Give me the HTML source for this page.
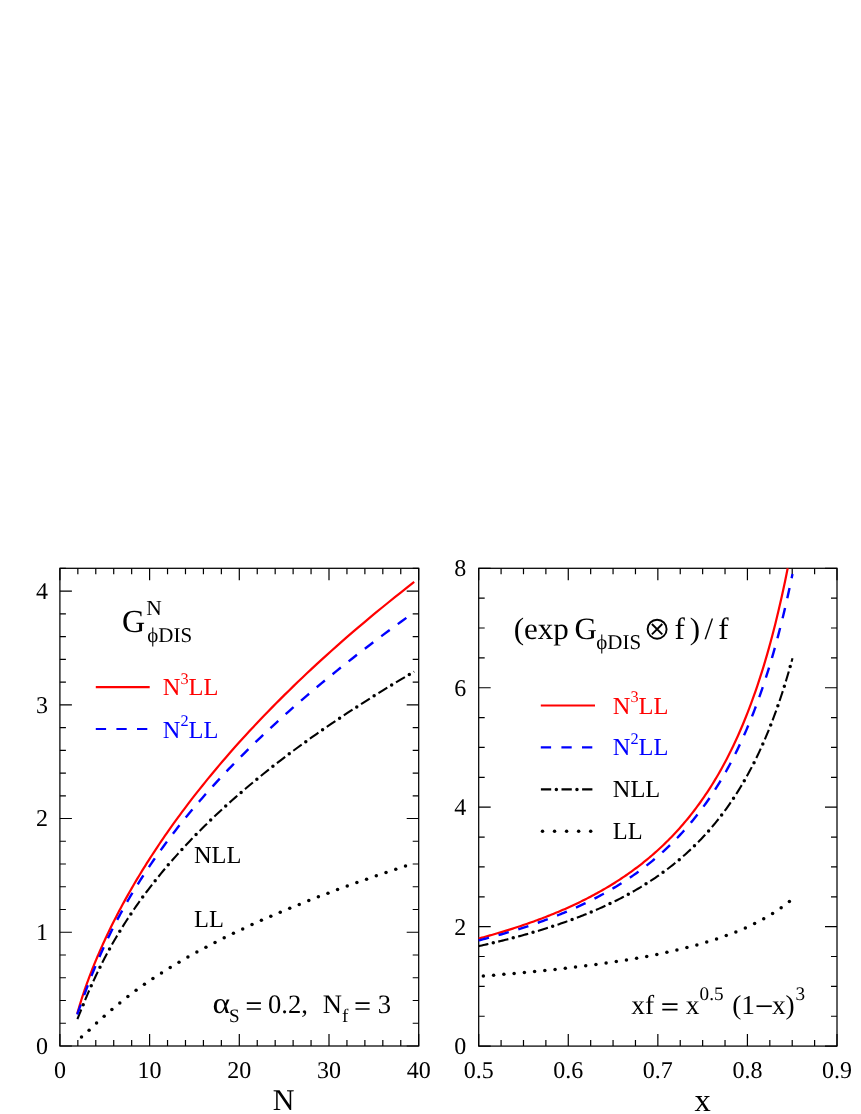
<!DOCTYPE html>
<html><head><meta charset="utf-8"><title>plot</title>
<style>html,body{margin:0;padding:0;background:#fff}svg{display:block;will-change:transform}text{font-family:"Liberation Serif",serif;text-rendering:geometricPrecision}</style>
</head><body>
<svg width="861" height="1114" viewBox="0 0 861 1114">
<path d="M59.9 1046v-12M59.9 568.3v12M77.84 1046v-6M77.84 568.3v6M95.78 1046v-6M95.78 568.3v6M113.72 1046v-6M113.72 568.3v6M131.66 1046v-6M131.66 568.3v6M149.6 1046v-12M149.6 568.3v12M167.54 1046v-6M167.54 568.3v6M185.48 1046v-6M185.48 568.3v6M203.42 1046v-6M203.42 568.3v6M221.36 1046v-6M221.36 568.3v6M239.3 1046v-12M239.3 568.3v12M257.24 1046v-6M257.24 568.3v6M275.18 1046v-6M275.18 568.3v6M293.12 1046v-6M293.12 568.3v6M311.06 1046v-6M311.06 568.3v6M329 1046v-12M329 568.3v12M346.94 1046v-6M346.94 568.3v6M364.88 1046v-6M364.88 568.3v6M382.82 1046v-6M382.82 568.3v6M400.76 1046v-6M400.76 568.3v6M418.7 1046v-12M418.7 568.3v12M59.9 1046h12M418.7 1046h-12M59.9 1023.25h6M418.7 1023.25h-6M59.9 1000.5h6M418.7 1000.5h-6M59.9 977.76h6M418.7 977.76h-6M59.9 955.01h6M418.7 955.01h-6M59.9 932.26h12M418.7 932.26h-12M59.9 909.51h6M418.7 909.51h-6M59.9 886.77h6M418.7 886.77h-6M59.9 864.02h6M418.7 864.02h-6M59.9 841.27h6M418.7 841.27h-6M59.9 818.52h12M418.7 818.52h-12M59.9 795.78h6M418.7 795.78h-6M59.9 773.03h6M418.7 773.03h-6M59.9 750.28h6M418.7 750.28h-6M59.9 727.53h6M418.7 727.53h-6M59.9 704.79h12M418.7 704.79h-12M59.9 682.04h6M418.7 682.04h-6M59.9 659.29h6M418.7 659.29h-6M59.9 636.54h6M418.7 636.54h-6M59.9 613.8h6M418.7 613.8h-6M59.9 591.05h12M418.7 591.05h-12M59.9 568.3h6M418.7 568.3h-6" stroke="#000" stroke-width="1.2" fill="none"/>
<rect x="59.9" y="568.3" width="358.8" height="477.7" fill="none" stroke="#000" stroke-width="1.25"/>
<path d="M478.7 1046.1v-12M478.7 568.3v12M501.09 1046.1v-6M501.09 568.3v6M523.49 1046.1v-6M523.49 568.3v6M545.88 1046.1v-6M545.88 568.3v6M568.27 1046.1v-12M568.27 568.3v12M590.67 1046.1v-6M590.67 568.3v6M613.06 1046.1v-6M613.06 568.3v6M635.46 1046.1v-6M635.46 568.3v6M657.85 1046.1v-12M657.85 568.3v12M680.24 1046.1v-6M680.24 568.3v6M702.64 1046.1v-6M702.64 568.3v6M725.03 1046.1v-6M725.03 568.3v6M747.42 1046.1v-12M747.42 568.3v12M769.82 1046.1v-6M769.82 568.3v6M792.21 1046.1v-6M792.21 568.3v6M814.61 1046.1v-6M814.61 568.3v6M837 1046.1v-12M837 568.3v12M478.7 1046.1h12M837 1046.1h-12M478.7 1016.24h6M837 1016.24h-6M478.7 986.37h6M837 986.37h-6M478.7 956.51h6M837 956.51h-6M478.7 926.65h12M837 926.65h-12M478.7 896.79h6M837 896.79h-6M478.7 866.92h6M837 866.92h-6M478.7 837.06h6M837 837.06h-6M478.7 807.2h12M837 807.2h-12M478.7 777.34h6M837 777.34h-6M478.7 747.47h6M837 747.47h-6M478.7 717.61h6M837 717.61h-6M478.7 687.75h12M837 687.75h-12M478.7 657.89h6M837 657.89h-6M478.7 628.02h6M837 628.02h-6M478.7 598.16h6M837 598.16h-6M478.7 568.3h12M837 568.3h-12" stroke="#000" stroke-width="1.2" fill="none"/>
<rect x="478.7" y="568.3" width="358.3" height="477.8" fill="none" stroke="#000" stroke-width="1.25"/>
<g font-size="24">
<text x="47.9" y="1053.9" text-anchor="end">0</text>
<text x="47.9" y="940.16" text-anchor="end">1</text>
<text x="47.9" y="826.42" text-anchor="end">2</text>
<text x="47.9" y="712.69" text-anchor="end">3</text>
<text x="47.9" y="598.95" text-anchor="end">4</text>
<text x="466.3" y="1054" text-anchor="end">0</text>
<text x="466.3" y="934.55" text-anchor="end">2</text>
<text x="466.3" y="815.1" text-anchor="end">4</text>
<text x="466.3" y="695.65" text-anchor="end">6</text>
<text x="466.3" y="576.2" text-anchor="end">8</text>
<text x="59.9" y="1078" text-anchor="middle">0</text>
<text x="149.6" y="1078" text-anchor="middle">10</text>
<text x="239.3" y="1078" text-anchor="middle">20</text>
<text x="329" y="1078" text-anchor="middle">30</text>
<text x="418.7" y="1078" text-anchor="middle">40</text>
<text x="478.7" y="1078" text-anchor="middle">0.5</text>
<text x="568.27" y="1078" text-anchor="middle">0.6</text>
<text x="657.85" y="1078" text-anchor="middle">0.7</text>
<text x="747.42" y="1078" text-anchor="middle">0.8</text>
<text x="837" y="1078" text-anchor="middle">0.9</text>
</g>
<text x="272.8" y="1109.7" font-size="30">N</text>
<text x="694.5" y="1110.8" font-size="32.5">x</text>
<g fill="none" stroke-linejoin="round">
<g fill="#000" stroke="none"><circle cx="81.51" cy="1037.09" r="1.75"/><circle cx="89.08" cy="1030.15" r="1.75"/><circle cx="96.57" cy="1023.12" r="1.75"/><circle cx="104.16" cy="1016.19" r="1.75"/><circle cx="111.9" cy="1009.44" r="1.75"/><circle cx="119.8" cy="1002.88" r="1.75"/><circle cx="127.86" cy="996.52" r="1.75"/><circle cx="136.08" cy="990.35" r="1.75"/><circle cx="144.43" cy="984.37" r="1.75"/><circle cx="152.92" cy="978.58" r="1.75"/><circle cx="161.52" cy="972.96" r="1.75"/><circle cx="170.22" cy="967.51" r="1.75"/><circle cx="179.02" cy="962.22" r="1.75"/><circle cx="187.91" cy="957.07" r="1.75"/><circle cx="196.88" cy="952.07" r="1.75"/><circle cx="205.93" cy="947.19" r="1.75"/><circle cx="215.03" cy="942.45" r="1.75"/><circle cx="224.2" cy="937.82" r="1.75"/><circle cx="233.43" cy="933.3" r="1.75"/><circle cx="242.71" cy="928.89" r="1.75"/><circle cx="252.03" cy="924.58" r="1.75"/><circle cx="261.4" cy="920.36" r="1.75"/><circle cx="270.81" cy="916.24" r="1.75"/><circle cx="280.25" cy="912.2" r="1.75"/><circle cx="289.73" cy="908.25" r="1.75"/><circle cx="299.25" cy="904.38" r="1.75"/><circle cx="308.79" cy="900.58" r="1.75"/><circle cx="318.36" cy="896.85" r="1.75"/><circle cx="327.96" cy="893.19" r="1.75"/><circle cx="337.58" cy="889.59" r="1.75"/><circle cx="347.23" cy="886.06" r="1.75"/><circle cx="356.89" cy="882.59" r="1.75"/><circle cx="366.58" cy="879.18" r="1.75"/><circle cx="376.29" cy="875.82" r="1.75"/><circle cx="386.02" cy="872.52" r="1.75"/><circle cx="395.76" cy="869.26" r="1.75"/><circle cx="405.52" cy="866.06" r="1.75"/></g>
<path d="M77.21 1019.6 L77.54 1018.77 L77.88 1017.93 L78.23 1017.08 L78.58 1016.2 L78.94 1015.31 L79.3 1014.4 L79.67 1013.47 L80.05 1012.52 L80.44 1011.56 L80.83 1010.58 L81.23 1009.58 L81.64 1008.57 L82.06 1007.54 L82.48 1006.49 L82.92 1005.43 L83.36 1004.35 L83.81 1003.25 L84.27 1002.14 L84.73 1001.01 L85.21 999.86 L85.69 998.7 L86.19 997.52 L86.69 996.32 L87.21 995.11 L87.73 993.89 L88.26 992.64 L88.81 991.38 L89.36 990.11 L89.92 988.82 L90.5 987.51 L91.09 986.19 L91.68 984.85 L92.29 983.5 L92.91 982.13 L93.55 980.74 L94.19 979.34 L94.85 977.93 L95.52 976.5 L96.2 975.05 L96.9 973.59 L97.61 972.11 L98.33 970.61 L99.07 969.1 L99.82 967.58 L100.58 966.04 L101.36 964.48 L102.16 962.91 L102.97 961.33 L103.79 959.72 L104.63 958.11 L105.49 956.47 L106.36 954.83 L107.25 953.16 L108.16 951.48 L109.09 949.79 L110.03 948.08 L110.99 946.35 L111.97 944.61 L112.97 942.85 L113.99 941.08 L115.02 939.29 L116.08 937.48 L117.16 935.66 L118.25 933.83 L119.37 931.97 L120.51 930.11 L121.67 928.22 L122.86 926.32 L124.06 924.4 L125.29 922.47 L126.55 920.52 L127.82 918.56 L129.13 916.58 L130.45 914.58 L131.81 912.56 L133.18 910.53 L134.59 908.49 L136.02 906.42 L137.48 904.34 L138.97 902.24 L140.48 900.13 L142.03 898 L143.6 895.85 L145.21 893.68 L146.84 891.5 L148.51 889.29 L150.2 887.08 L151.94 884.84 L153.7 882.59 L155.5 880.31 L157.33 878.02 L159.2 875.72 L161.1 873.39 L163.04 871.04 L165.02 868.68 L167.03 866.3 L169.09 863.9 L171.18 861.48 L173.31 859.04 L175.49 856.59 L177.7 854.11 L179.96 851.61 L182.26 849.1 L184.61 846.56 L187 844.01 L189.43 841.44 L191.91 838.84 L194.44 836.23 L197.02 833.59 L199.65 830.94 L202.33 828.26 L205.06 825.56 L207.84 822.84 L210.68 820.1 L213.57 817.34 L216.51 814.56 L219.52 811.76 L222.58 808.93 L225.69 806.08 L228.87 803.21 L232.11 800.32 L235.41 797.4 L238.78 794.47 L242.2 791.5 L245.7 788.52 L249.26 785.51 L252.89 782.48 L256.59 779.42 L260.36 776.34 L264.2 773.24 L268.12 770.11 L272.11 766.96 L276.17 763.78 L280.32 760.58 L284.54 757.35 L288.85 754.1 L293.24 750.82 L297.71 747.51 L302.27 744.18 L306.92 740.82 L311.65 737.44 L316.48 734.03 L321.39 730.59 L326.41 727.12 L331.51 723.63 L336.72 720.1 L342.03 716.55 L347.43 712.97 L352.94 709.37 L358.56 705.73 L364.29 702.07 L370.12 698.37 L376.07 694.65 L382.13 690.89 L388.3 687.11 L394.6 683.29 L401.01 679.44 L407.55 675.57 L414.21 671.66" stroke="#000" stroke-width="2.1" stroke-dasharray="10.4 10.166" stroke-dashoffset="-0.49"/>
<path d="M77.21 1019.6 L77.54 1018.77 L77.88 1017.93 L78.23 1017.08 L78.58 1016.2 L78.94 1015.31 L79.3 1014.4 L79.67 1013.47 L80.05 1012.52 L80.44 1011.56 L80.83 1010.58 L81.23 1009.58 L81.64 1008.57 L82.06 1007.54 L82.48 1006.49 L82.92 1005.43 L83.36 1004.35 L83.81 1003.25 L84.27 1002.14 L84.73 1001.01 L85.21 999.86 L85.69 998.7 L86.19 997.52 L86.69 996.32 L87.21 995.11 L87.73 993.89 L88.26 992.64 L88.81 991.38 L89.36 990.11 L89.92 988.82 L90.5 987.51 L91.09 986.19 L91.68 984.85 L92.29 983.5 L92.91 982.13 L93.55 980.74 L94.19 979.34 L94.85 977.93 L95.52 976.5 L96.2 975.05 L96.9 973.59 L97.61 972.11 L98.33 970.61 L99.07 969.1 L99.82 967.58 L100.58 966.04 L101.36 964.48 L102.16 962.91 L102.97 961.33 L103.79 959.72 L104.63 958.11 L105.49 956.47 L106.36 954.83 L107.25 953.16 L108.16 951.48 L109.09 949.79 L110.03 948.08 L110.99 946.35 L111.97 944.61 L112.97 942.85 L113.99 941.08 L115.02 939.29 L116.08 937.48 L117.16 935.66 L118.25 933.83 L119.37 931.97 L120.51 930.11 L121.67 928.22 L122.86 926.32 L124.06 924.4 L125.29 922.47 L126.55 920.52 L127.82 918.56 L129.13 916.58 L130.45 914.58 L131.81 912.56 L133.18 910.53 L134.59 908.49 L136.02 906.42 L137.48 904.34 L138.97 902.24 L140.48 900.13 L142.03 898 L143.6 895.85 L145.21 893.68 L146.84 891.5 L148.51 889.29 L150.2 887.08 L151.94 884.84 L153.7 882.59 L155.5 880.31 L157.33 878.02 L159.2 875.72 L161.1 873.39 L163.04 871.04 L165.02 868.68 L167.03 866.3 L169.09 863.9 L171.18 861.48 L173.31 859.04 L175.49 856.59 L177.7 854.11 L179.96 851.61 L182.26 849.1 L184.61 846.56 L187 844.01 L189.43 841.44 L191.91 838.84 L194.44 836.23 L197.02 833.59 L199.65 830.94 L202.33 828.26 L205.06 825.56 L207.84 822.84 L210.68 820.1 L213.57 817.34 L216.51 814.56 L219.52 811.76 L222.58 808.93 L225.69 806.08 L228.87 803.21 L232.11 800.32 L235.41 797.4 L238.78 794.47 L242.2 791.5 L245.7 788.52 L249.26 785.51 L252.89 782.48 L256.59 779.42 L260.36 776.34 L264.2 773.24 L268.12 770.11 L272.11 766.96 L276.17 763.78 L280.32 760.58 L284.54 757.35 L288.85 754.1 L293.24 750.82 L297.71 747.51 L302.27 744.18 L306.92 740.82 L311.65 737.44 L316.48 734.03 L321.39 730.59 L326.41 727.12 L331.51 723.63 L336.72 720.1 L342.03 716.55 L347.43 712.97 L352.94 709.37 L358.56 705.73 L364.29 702.07 L370.12 698.37 L376.07 694.65 L382.13 690.89 L388.3 687.11 L394.6 683.29 L401.01 679.44 L407.55 675.57 L414.21 671.66" stroke="#000" stroke-width="3.5" stroke-linecap="round" stroke-dasharray="0 20.566" stroke-dashoffset="-15.97"/>
<path d="M77.21 1013.74 L77.54 1012.57 L77.88 1011.38 L78.23 1010.19 L78.58 1008.98 L78.94 1007.77 L79.3 1006.55 L79.67 1005.32 L80.05 1004.08 L80.44 1002.82 L80.83 1001.56 L81.23 1000.29 L81.64 999 L82.06 997.71 L82.48 996.4 L82.92 995.09 L83.36 993.76 L83.81 992.42 L84.27 991.07 L84.73 989.7 L85.21 988.33 L85.69 986.94 L86.19 985.54 L86.69 984.12 L87.21 982.7 L87.73 981.26 L88.26 979.8 L88.81 978.34 L89.36 976.86 L89.92 975.36 L90.5 973.85 L91.09 972.33 L91.68 970.79 L92.29 969.24 L92.91 967.67 L93.55 966.09 L94.19 964.5 L94.85 962.88 L95.52 961.25 L96.2 959.61 L96.9 957.95 L97.61 956.27 L98.33 954.58 L99.07 952.87 L99.82 951.14 L100.58 949.4 L101.36 947.64 L102.16 945.86 L102.97 944.06 L103.79 942.25 L104.63 940.42 L105.49 938.57 L106.36 936.7 L107.25 934.81 L108.16 932.9 L109.09 930.98 L110.03 929.03 L110.99 927.06 L111.97 925.08 L112.97 923.07 L113.99 921.05 L115.02 919 L116.08 916.94 L117.16 914.85 L118.25 912.74 L119.37 910.61 L120.51 908.46 L121.67 906.29 L122.86 904.09 L124.06 901.88 L125.29 899.64 L126.55 897.37 L127.82 895.09 L129.13 892.78 L130.45 890.45 L131.81 888.09 L133.18 885.71 L134.59 883.31 L136.02 880.89 L137.48 878.43 L138.97 875.96 L140.48 873.46 L142.03 870.93 L143.6 868.38 L145.21 865.8 L146.84 863.2 L148.51 860.57 L150.2 857.92 L151.94 855.23 L153.7 852.53 L155.5 849.79 L157.33 847.03 L159.2 844.24 L161.1 841.42 L163.04 838.58 L165.02 835.7 L167.03 832.8 L169.09 829.87 L171.18 826.91 L173.31 823.92 L175.49 820.9 L177.7 817.86 L179.96 814.78 L182.26 811.67 L184.61 808.54 L187 805.37 L189.43 802.17 L191.91 798.94 L194.44 795.68 L197.02 792.39 L199.65 789.06 L202.33 785.7 L205.06 782.32 L207.84 778.89 L210.68 775.44 L213.57 771.95 L216.51 768.43 L219.52 764.88 L222.58 761.29 L225.69 757.67 L228.87 754.02 L232.11 750.33 L235.41 746.6 L238.78 742.84 L242.2 739.05 L245.7 735.22 L249.26 731.35 L252.89 727.45 L256.59 723.51 L260.36 719.53 L264.2 715.52 L268.12 711.47 L272.11 707.38 L276.17 703.26 L280.32 699.1 L284.54 694.9 L288.85 690.66 L293.24 686.38 L297.71 682.06 L302.27 677.71 L306.92 673.31 L311.65 668.88 L316.48 664.41 L321.39 659.89 L326.41 655.34 L331.51 650.74 L336.72 646.1 L342.03 641.42 L347.43 636.7 L352.94 631.94 L358.56 627.14 L364.29 622.29 L370.12 617.4 L376.07 612.47 L382.13 607.49 L388.3 602.48 L394.6 597.41 L401.01 592.31 L407.55 587.16 L414.21 581.96" stroke="#f00" stroke-width="2.2"/>
<path d="M77.21 1014.52 L77.54 1013.61 L77.88 1012.67 L78.23 1011.71 L78.58 1010.73 L78.94 1009.74 L79.3 1008.72 L79.67 1007.68 L80.05 1006.62 L80.44 1005.54 L80.83 1004.44 L81.23 1003.32 L81.64 1002.18 L82.06 1001.02 L82.48 999.84 L82.92 998.64 L83.36 997.42 L83.81 996.19 L84.27 994.93 L84.73 993.66 L85.21 992.36 L85.69 991.05 L86.19 989.72 L86.69 988.38 L87.21 987.01 L87.73 985.63 L88.26 984.22 L88.81 982.8 L89.36 981.36 L89.92 979.91 L90.5 978.43 L91.09 976.94 L91.68 975.43 L92.29 973.91 L92.91 972.36 L93.55 970.8 L94.19 969.22 L94.85 967.62 L95.52 966.01 L96.2 964.38 L96.9 962.73 L97.61 961.06 L98.33 959.38 L99.07 957.68 L99.82 955.96 L100.58 954.22 L101.36 952.47 L102.16 950.7 L102.97 948.91 L103.79 947.11 L104.63 945.28 L105.49 943.45 L106.36 941.59 L107.25 939.71 L108.16 937.82 L109.09 935.91 L110.03 933.99 L110.99 932.04 L111.97 930.08 L112.97 928.1 L113.99 926.1 L115.02 924.09 L116.08 922.05 L117.16 920 L118.25 917.93 L119.37 915.85 L120.51 913.74 L121.67 911.62 L122.86 909.48 L124.06 907.31 L125.29 905.14 L126.55 902.94 L127.82 900.72 L129.13 898.49 L130.45 896.23 L131.81 893.96 L133.18 891.66 L134.59 889.35 L136.02 887.02 L137.48 884.67 L138.97 882.3 L140.48 879.9 L142.03 877.49 L143.6 875.06 L145.21 872.61 L146.84 870.13 L148.51 867.64 L150.2 865.12 L151.94 862.59 L153.7 860.03 L155.5 857.45 L157.33 854.85 L159.2 852.23 L161.1 849.58 L163.04 846.92 L165.02 844.23 L167.03 841.51 L169.09 838.78 L171.18 836.02 L173.31 833.24 L175.49 830.43 L177.7 827.6 L179.96 824.75 L182.26 821.87 L184.61 818.96 L187 816.04 L189.43 813.08 L191.91 810.1 L194.44 807.1 L197.02 804.07 L199.65 801.01 L202.33 797.93 L205.06 794.82 L207.84 791.68 L210.68 788.52 L213.57 785.33 L216.51 782.11 L219.52 778.86 L222.58 775.58 L225.69 772.28 L228.87 768.94 L232.11 765.58 L235.41 762.18 L238.78 758.76 L242.2 755.3 L245.7 751.82 L249.26 748.3 L252.89 744.75 L256.59 741.17 L260.36 737.56 L264.2 733.92 L268.12 730.24 L272.11 726.53 L276.17 722.78 L280.32 719 L284.54 715.19 L288.85 711.34 L293.24 707.46 L297.71 703.54 L302.27 699.58 L306.92 695.59 L311.65 691.56 L316.48 687.49 L321.39 683.39 L326.41 679.25 L331.51 675.07 L336.72 670.85 L342.03 666.59 L347.43 662.29 L352.94 657.95 L358.56 653.57 L364.29 649.15 L370.12 644.69 L376.07 640.19 L382.13 635.64 L388.3 631.05 L394.6 626.42 L401.01 621.74 L407.55 617.02 L414.21 612.25" stroke="#00f" stroke-width="2.4" stroke-dasharray="10.6 9.96"/>
<g fill="#000" stroke="none"><circle cx="483.36" cy="975.95" r="1.75"/><circle cx="493.61" cy="975.15" r="1.75"/><circle cx="503.87" cy="974.3" r="1.75"/><circle cx="514.12" cy="973.42" r="1.75"/><circle cx="524.36" cy="972.49" r="1.75"/><circle cx="534.6" cy="971.52" r="1.75"/><circle cx="544.84" cy="970.49" r="1.75"/><circle cx="555.07" cy="969.42" r="1.75"/><circle cx="565.3" cy="968.28" r="1.75"/><circle cx="575.52" cy="967.09" r="1.75"/><circle cx="585.72" cy="965.82" r="1.75"/><circle cx="595.93" cy="964.48" r="1.75"/><circle cx="606.11" cy="963.06" r="1.75"/><circle cx="616.29" cy="961.55" r="1.75"/><circle cx="626.45" cy="959.94" r="1.75"/><circle cx="636.6" cy="958.23" r="1.75"/><circle cx="646.72" cy="956.39" r="1.75"/><circle cx="656.82" cy="954.43" r="1.75"/><circle cx="666.89" cy="952.32" r="1.75"/><circle cx="676.92" cy="950.06" r="1.75"/><circle cx="686.92" cy="947.61" r="1.75"/><circle cx="696.86" cy="944.97" r="1.75"/><circle cx="706.74" cy="942.1" r="1.75"/><circle cx="716.55" cy="939" r="1.75"/><circle cx="726.26" cy="935.61" r="1.75"/><circle cx="735.87" cy="931.92" r="1.75"/><circle cx="745.33" cy="927.9" r="1.75"/><circle cx="754.64" cy="923.51" r="1.75"/><circle cx="763.73" cy="918.71" r="1.75"/><circle cx="772.59" cy="913.47" r="1.75"/><circle cx="781.16" cy="907.78" r="1.75"/><circle cx="789.39" cy="901.61" r="1.75"/></g>
<path d="M478.7 946.13 L480.28 945.78 L481.85 945.43 L483.43 945.08 L485.01 944.72 L486.58 944.36 L488.16 944 L489.74 943.64 L491.31 943.27 L492.89 942.9 L494.47 942.53 L496.04 942.15 L497.62 941.77 L499.2 941.39 L500.78 941 L502.35 940.61 L503.93 940.22 L505.51 939.83 L507.08 939.43 L508.66 939.03 L510.24 938.62 L511.81 938.21 L513.39 937.8 L514.97 937.38 L516.54 936.97 L518.12 936.54 L519.7 936.12 L521.27 935.69 L522.85 935.25 L524.43 934.82 L526 934.37 L527.58 933.93 L529.16 933.48 L530.73 933.03 L532.31 932.57 L533.89 932.11 L535.46 931.64 L537.04 931.17 L538.62 930.7 L540.19 930.22 L541.77 929.74 L543.35 929.25 L544.93 928.76 L546.5 928.27 L548.08 927.76 L549.66 927.26 L551.23 926.75 L552.81 926.23 L554.39 925.71 L555.96 925.19 L557.54 924.66 L559.12 924.13 L560.69 923.59 L562.27 923.04 L563.85 922.49 L565.42 921.93 L567 921.37 L568.58 920.81 L570.15 920.23 L571.73 919.65 L573.31 919.07 L574.88 918.48 L576.46 917.88 L578.04 917.28 L579.61 916.67 L581.19 916.06 L582.77 915.44 L584.34 914.81 L585.92 914.18 L587.5 913.54 L589.08 912.89 L590.65 912.24 L592.23 911.57 L593.81 910.91 L595.38 910.23 L596.96 909.55 L598.54 908.86 L600.11 908.16 L601.69 907.45 L603.27 906.74 L604.84 906.02 L606.42 905.29 L608 904.55 L609.57 903.81 L611.15 903.05 L612.73 902.29 L614.3 901.52 L615.88 900.74 L617.46 899.95 L619.03 899.15 L620.61 898.34 L622.19 897.52 L623.76 896.69 L625.34 895.85 L626.92 895.01 L628.5 894.15 L630.07 893.28 L631.65 892.4 L633.23 891.51 L634.8 890.61 L636.38 889.7 L637.96 888.77 L639.53 887.84 L641.11 886.89 L642.69 885.93 L644.26 884.96 L645.84 883.97 L647.42 882.98 L648.99 881.97 L650.57 880.94 L652.15 879.91 L653.72 878.85 L655.3 877.79 L656.88 876.71 L658.45 875.62 L660.03 874.51 L661.61 873.38 L663.18 872.24 L664.76 871.08 L666.34 869.91 L667.91 868.72 L669.49 867.52 L671.07 866.29 L672.65 865.05 L674.22 863.79 L675.8 862.51 L677.38 861.22 L678.95 859.9 L680.53 858.57 L682.11 857.21 L683.68 855.83 L685.26 854.44 L686.84 853.02 L688.41 851.58 L689.99 850.11 L691.57 848.63 L693.14 847.12 L694.72 845.58 L696.3 844.02 L697.87 842.44 L699.45 840.83 L701.03 839.19 L702.6 837.53 L704.18 835.83 L705.76 834.11 L707.33 832.36 L708.91 830.58 L710.49 828.77 L712.06 826.93 L713.64 825.05 L715.22 823.15 L716.8 821.2 L718.37 819.23 L719.95 817.21 L721.53 815.16 L723.1 813.08 L724.68 810.95 L726.26 808.78 L727.83 806.57 L729.41 804.32 L730.99 802.03 L732.56 799.69 L734.14 797.31 L735.72 794.88 L737.29 792.39 L738.87 789.86 L740.45 787.28 L742.02 784.65 L743.6 781.96 L745.18 779.21 L746.75 776.4 L748.33 773.54 L749.91 770.61 L751.48 767.62 L753.06 764.56 L754.64 761.44 L756.22 758.24 L757.79 754.97 L759.37 751.63 L760.95 748.21 L762.52 744.71 L764.1 741.12 L765.68 737.45 L767.25 733.7 L768.83 729.84 L770.41 725.9 L771.98 721.85 L773.56 717.7 L775.14 713.45 L776.71 709.08 L778.29 704.6 L779.87 700 L781.44 695.28 L783.02 690.43 L784.6 685.44 L786.17 680.31 L787.75 675.05 L789.33 669.62 L790.9 664.05 L792.48 658.31" stroke="#000" stroke-width="2.1" stroke-dasharray="10.4 10.16" stroke-dashoffset="0.5"/>
<path d="M478.7 946.13 L480.28 945.78 L481.85 945.43 L483.43 945.08 L485.01 944.72 L486.58 944.36 L488.16 944 L489.74 943.64 L491.31 943.27 L492.89 942.9 L494.47 942.53 L496.04 942.15 L497.62 941.77 L499.2 941.39 L500.78 941 L502.35 940.61 L503.93 940.22 L505.51 939.83 L507.08 939.43 L508.66 939.03 L510.24 938.62 L511.81 938.21 L513.39 937.8 L514.97 937.38 L516.54 936.97 L518.12 936.54 L519.7 936.12 L521.27 935.69 L522.85 935.25 L524.43 934.82 L526 934.37 L527.58 933.93 L529.16 933.48 L530.73 933.03 L532.31 932.57 L533.89 932.11 L535.46 931.64 L537.04 931.17 L538.62 930.7 L540.19 930.22 L541.77 929.74 L543.35 929.25 L544.93 928.76 L546.5 928.27 L548.08 927.76 L549.66 927.26 L551.23 926.75 L552.81 926.23 L554.39 925.71 L555.96 925.19 L557.54 924.66 L559.12 924.13 L560.69 923.59 L562.27 923.04 L563.85 922.49 L565.42 921.93 L567 921.37 L568.58 920.81 L570.15 920.23 L571.73 919.65 L573.31 919.07 L574.88 918.48 L576.46 917.88 L578.04 917.28 L579.61 916.67 L581.19 916.06 L582.77 915.44 L584.34 914.81 L585.92 914.18 L587.5 913.54 L589.08 912.89 L590.65 912.24 L592.23 911.57 L593.81 910.91 L595.38 910.23 L596.96 909.55 L598.54 908.86 L600.11 908.16 L601.69 907.45 L603.27 906.74 L604.84 906.02 L606.42 905.29 L608 904.55 L609.57 903.81 L611.15 903.05 L612.73 902.29 L614.3 901.52 L615.88 900.74 L617.46 899.95 L619.03 899.15 L620.61 898.34 L622.19 897.52 L623.76 896.69 L625.34 895.85 L626.92 895.01 L628.5 894.15 L630.07 893.28 L631.65 892.4 L633.23 891.51 L634.8 890.61 L636.38 889.7 L637.96 888.77 L639.53 887.84 L641.11 886.89 L642.69 885.93 L644.26 884.96 L645.84 883.97 L647.42 882.98 L648.99 881.97 L650.57 880.94 L652.15 879.91 L653.72 878.85 L655.3 877.79 L656.88 876.71 L658.45 875.62 L660.03 874.51 L661.61 873.38 L663.18 872.24 L664.76 871.08 L666.34 869.91 L667.91 868.72 L669.49 867.52 L671.07 866.29 L672.65 865.05 L674.22 863.79 L675.8 862.51 L677.38 861.22 L678.95 859.9 L680.53 858.57 L682.11 857.21 L683.68 855.83 L685.26 854.44 L686.84 853.02 L688.41 851.58 L689.99 850.11 L691.57 848.63 L693.14 847.12 L694.72 845.58 L696.3 844.02 L697.87 842.44 L699.45 840.83 L701.03 839.19 L702.6 837.53 L704.18 835.83 L705.76 834.11 L707.33 832.36 L708.91 830.58 L710.49 828.77 L712.06 826.93 L713.64 825.05 L715.22 823.15 L716.8 821.2 L718.37 819.23 L719.95 817.21 L721.53 815.16 L723.1 813.08 L724.68 810.95 L726.26 808.78 L727.83 806.57 L729.41 804.32 L730.99 802.03 L732.56 799.69 L734.14 797.31 L735.72 794.88 L737.29 792.39 L738.87 789.86 L740.45 787.28 L742.02 784.65 L743.6 781.96 L745.18 779.21 L746.75 776.4 L748.33 773.54 L749.91 770.61 L751.48 767.62 L753.06 764.56 L754.64 761.44 L756.22 758.24 L757.79 754.97 L759.37 751.63 L760.95 748.21 L762.52 744.71 L764.1 741.12 L765.68 737.45 L767.25 733.7 L768.83 729.84 L770.41 725.9 L771.98 721.85 L773.56 717.7 L775.14 713.45 L776.71 709.08 L778.29 704.6 L779.87 700 L781.44 695.28 L783.02 690.43 L784.6 685.44 L786.17 680.31 L787.75 675.05 L789.33 669.62 L790.9 664.05 L792.48 658.31" stroke="#000" stroke-width="3.5" stroke-linecap="round" stroke-dasharray="0 20.56" stroke-dashoffset="-14.95"/>
<path d="M478.7 938.5 L480.32 938.07 L481.94 937.64 L483.56 937.2 L485.18 936.75 L486.8 936.3 L488.42 935.85 L490.04 935.4 L491.66 934.94 L493.28 934.47 L494.9 934.01 L496.52 933.53 L498.15 933.06 L499.77 932.58 L501.39 932.09 L503.01 931.61 L504.63 931.11 L506.25 930.62 L507.87 930.11 L509.49 929.61 L511.11 929.1 L512.73 928.58 L514.35 928.06 L515.97 927.53 L517.59 927 L519.21 926.47 L520.83 925.93 L522.45 925.38 L524.07 924.83 L525.69 924.27 L527.31 923.71 L528.93 923.15 L530.55 922.57 L532.17 922 L533.8 921.41 L535.42 920.82 L537.04 920.23 L538.66 919.63 L540.28 919.02 L541.9 918.41 L543.52 917.79 L545.14 917.16 L546.76 916.53 L548.38 915.89 L550 915.25 L551.62 914.6 L553.24 913.94 L554.86 913.28 L556.48 912.6 L558.1 911.93 L559.72 911.24 L561.34 910.55 L562.96 909.85 L564.58 909.14 L566.2 908.42 L567.82 907.7 L569.45 906.97 L571.07 906.23 L572.69 905.48 L574.31 904.73 L575.93 903.96 L577.55 903.19 L579.17 902.41 L580.79 901.62 L582.41 900.82 L584.03 900.01 L585.65 899.19 L587.27 898.37 L588.89 897.53 L590.51 896.69 L592.13 895.83 L593.75 894.96 L595.37 894.09 L596.99 893.2 L598.61 892.3 L600.23 891.4 L601.85 890.48 L603.47 889.55 L605.1 888.61 L606.72 887.65 L608.34 886.69 L609.96 885.71 L611.58 884.72 L613.2 883.72 L614.82 882.71 L616.44 881.68 L618.06 880.64 L619.68 879.58 L621.3 878.52 L622.92 877.44 L624.54 876.34 L626.16 875.23 L627.78 874.11 L629.4 872.97 L631.02 871.81 L632.64 870.64 L634.26 869.45 L635.88 868.25 L637.5 867.03 L639.12 865.79 L640.75 864.54 L642.37 863.27 L643.99 861.98 L645.61 860.67 L647.23 859.34 L648.85 858 L650.47 856.63 L652.09 855.25 L653.71 853.84 L655.33 852.42 L656.95 850.97 L658.57 849.5 L660.19 848.01 L661.81 846.49 L663.43 844.95 L665.05 843.39 L666.67 841.81 L668.29 840.2 L669.91 838.56 L671.53 836.9 L673.15 835.21 L674.77 833.49 L676.4 831.75 L678.02 829.98 L679.64 828.18 L681.26 826.34 L682.88 824.48 L684.5 822.59 L686.12 820.66 L687.74 818.7 L689.36 816.71 L690.98 814.68 L692.6 812.62 L694.22 810.52 L695.84 808.38 L697.46 806.21 L699.08 803.99 L700.7 801.74 L702.32 799.44 L703.94 797.1 L705.56 794.72 L707.18 792.29 L708.8 789.82 L710.42 787.3 L712.05 784.73 L713.67 782.11 L715.29 779.44 L716.91 776.71 L718.53 773.93 L720.15 771.1 L721.77 768.21 L723.39 765.25 L725.01 762.24 L726.63 759.16 L728.25 756.02 L729.87 752.81 L731.49 749.53 L733.11 746.18 L734.73 742.76 L736.35 739.26 L737.97 735.68 L739.59 732.02 L741.21 728.28 L742.83 724.45 L744.45 720.53 L746.07 716.52 L747.7 712.42 L749.32 708.21 L750.94 703.9 L752.56 699.49 L754.18 694.97 L755.8 690.34 L757.42 685.58 L759.04 680.71 L760.66 675.71 L762.28 670.58 L763.9 665.31 L765.52 659.9 L767.14 654.34 L768.76 648.64 L770.38 642.77 L772 636.74 L773.62 630.53 L775.24 624.15 L776.86 617.59 L778.48 610.82 L780.1 603.86 L781.72 596.69 L783.35 589.29 L784.97 581.67 L786.59 573.81 L787.69 568.3" stroke="#f00" stroke-width="2.2"/>
<path d="M478.7 940.37 L480.28 939.97 L481.85 939.57 L483.43 939.17 L485.01 938.76 L486.58 938.35 L488.16 937.93 L489.74 937.52 L491.31 937.09 L492.89 936.67 L494.47 936.24 L496.04 935.81 L497.62 935.37 L499.2 934.93 L500.78 934.48 L502.35 934.04 L503.93 933.58 L505.51 933.13 L507.08 932.67 L508.66 932.2 L510.24 931.73 L511.81 931.26 L513.39 930.78 L514.97 930.3 L516.54 929.81 L518.12 929.32 L519.7 928.83 L521.27 928.33 L522.85 927.82 L524.43 927.31 L526 926.8 L527.58 926.28 L529.16 925.76 L530.73 925.23 L532.31 924.69 L533.89 924.15 L535.46 923.61 L537.04 923.06 L538.62 922.5 L540.19 921.94 L541.77 921.38 L543.35 920.8 L544.93 920.23 L546.5 919.64 L548.08 919.05 L549.66 918.46 L551.23 917.86 L552.81 917.25 L554.39 916.63 L555.96 916.01 L557.54 915.39 L559.12 914.76 L560.69 914.12 L562.27 913.47 L563.85 912.82 L565.42 912.16 L567 911.49 L568.58 910.82 L570.15 910.13 L571.73 909.45 L573.31 908.75 L574.88 908.05 L576.46 907.34 L578.04 906.62 L579.61 905.89 L581.19 905.15 L582.77 904.41 L584.34 903.66 L585.92 902.9 L587.5 902.13 L589.08 901.35 L590.65 900.57 L592.23 899.77 L593.81 898.97 L595.38 898.16 L596.96 897.33 L598.54 896.5 L600.11 895.66 L601.69 894.81 L603.27 893.94 L604.84 893.07 L606.42 892.19 L608 891.29 L609.57 890.39 L611.15 889.47 L612.73 888.55 L614.3 887.61 L615.88 886.66 L617.46 885.7 L619.03 884.72 L620.61 883.74 L622.19 882.74 L623.76 881.73 L625.34 880.7 L626.92 879.67 L628.5 878.62 L630.07 877.55 L631.65 876.47 L633.23 875.38 L634.8 874.28 L636.38 873.15 L637.96 872.02 L639.53 870.87 L641.11 869.7 L642.69 868.52 L644.26 867.32 L645.84 866.1 L647.42 864.87 L648.99 863.62 L650.57 862.35 L652.15 861.07 L653.72 859.76 L655.3 858.44 L656.88 857.1 L658.45 855.74 L660.03 854.36 L661.61 852.96 L663.18 851.54 L664.76 850.1 L666.34 848.63 L667.91 847.15 L669.49 845.64 L671.07 844.11 L672.65 842.56 L674.22 840.98 L675.8 839.38 L677.38 837.75 L678.95 836.1 L680.53 834.42 L682.11 832.71 L683.68 830.98 L685.26 829.22 L686.84 827.43 L688.41 825.61 L689.99 823.76 L691.57 821.88 L693.14 819.97 L694.72 818.03 L696.3 816.05 L697.87 814.04 L699.45 812 L701.03 809.92 L702.6 807.8 L704.18 805.65 L705.76 803.45 L707.33 801.22 L708.91 798.95 L710.49 796.64 L712.06 794.29 L713.64 791.89 L715.22 789.45 L716.8 786.96 L718.37 784.43 L719.95 781.85 L721.53 779.21 L723.1 776.53 L724.68 773.8 L726.26 771.01 L727.83 768.17 L729.41 765.27 L730.99 762.31 L732.56 759.29 L734.14 756.21 L735.72 753.07 L737.29 749.86 L738.87 746.58 L740.45 743.24 L742.02 739.82 L743.6 736.33 L745.18 732.76 L746.75 729.12 L748.33 725.39 L749.91 721.58 L751.48 717.69 L753.06 713.7 L754.64 709.63 L756.22 705.46 L757.79 701.19 L759.37 696.82 L760.95 692.35 L762.52 687.77 L764.1 683.08 L765.68 678.27 L767.25 673.34 L768.83 668.29 L770.41 663.11 L771.98 657.79 L773.56 652.34 L775.14 646.75 L776.71 641 L778.29 635.11 L779.87 629.05 L781.44 622.83 L783.02 616.43 L784.6 609.86 L786.17 603.09 L787.75 596.14 L789.33 588.98 L790.9 581.61 L792.48 574.02" stroke="#00f" stroke-width="2.4" stroke-dasharray="10.6 9.96"/>
</g>
<path d="M95.8 687.2H149.7" stroke="#f00" stroke-width="2.2"/>
<text x="162.8" y="695.4" font-size="24.4" fill="#f00">N<tspan font-size="16.3" dy="-11.6">3</tspan><tspan dy="11.6">LL</tspan></text>
<path d="M95.8 729H149.7" stroke="#00f" stroke-width="2.2" stroke-dasharray="10.3 10.3"/>
<text x="162.8" y="737.7" font-size="24.4" fill="#00f">N<tspan font-size="16.3" dy="-11.6">2</tspan><tspan dy="11.6">LL</tspan></text>
<text x="194.0" y="862.6" font-size="24.4">NLL</text>
<text x="194.0" y="926.8" font-size="24.4">LL</text>
<path d="M540.8 705.5H595" stroke="#f00" stroke-width="2.2"/>
<text x="612.8" y="713.5" font-size="24.4" fill="#f00">N<tspan font-size="16.3" dy="-11.6">3</tspan><tspan dy="11.6">LL</tspan></text>
<path d="M540.8 747.3H595" stroke="#00f" stroke-width="2.2" stroke-dasharray="10.3 10.3"/>
<text x="612.8" y="755.3" font-size="24.4" fill="#00f">N<tspan font-size="16.3" dy="-11.6">2</tspan><tspan dy="11.6">LL</tspan></text>
<path d="M540.9 789.4H595" stroke="#000" stroke-width="2.1" stroke-dasharray="10.3 10.3"/>
<path d="M540.9 789.4H595" stroke="#000" stroke-width="3.5" stroke-linecap="round" stroke-dasharray="0 20.6" stroke-dashoffset="-15.45"/>
<text x="612.8" y="797.1" font-size="24.4">NLL</text>
<g fill="#000"><circle cx="542.5" cy="831.2" r="1.75"/><circle cx="554.55" cy="831.2" r="1.75"/><circle cx="566.6" cy="831.2" r="1.75"/><circle cx="578.65" cy="831.2" r="1.75"/><circle cx="590.7" cy="831.2" r="1.75"/></g>
<text x="612.8" y="839.1" font-size="24.4">LL</text>
<text x="122.1" y="631.5" font-size="32">G</text>
<text x="146.3" y="615.1" font-size="21.5">N</text>
<text x="147.3" y="642.0" font-size="21">ϕDIS</text>
<text transform="translate(212.5 1012.6) scale(1.14 1)" font-size="29.5">α</text>
<text y="1012.6" font-size="26.6"><tspan font-size="19" x="228.9" dy="9.2">S</tspan><tspan x="268.0" dy="-9.2">0.2,</tspan><tspan x="322.7">N</tspan><tspan font-size="19" x="342.0" dy="9.2">f</tspan><tspan x="377.7" dy="-9.2">3</tspan></text>
<path d="M246.8 1003.2h14.1M246.8 1009h14.1" stroke="#000" stroke-width="1.7" fill="none"/>
<path d="M355.5 1003.2h14.1M355.5 1009h14.1" stroke="#000" stroke-width="1.7" fill="none"/>
<text y="638.5" font-size="31"><tspan x="513.7">(exp</tspan><tspan x="574.6">G</tspan><tspan font-size="21" x="596.2" dy="10.5">ϕDIS</tspan><tspan x="674.4" dy="-10.5">f</tspan><tspan x="689.8">)</tspan><tspan x="704.4">/</tspan><tspan x="718.3">f</tspan></text>
<g stroke="#000" stroke-width="1.9" fill="none"><circle cx="657.1" cy="629.2" r="9.5"/><path d="M651.9 624L662.3 634.4M662.3 624L651.9 634.4"/></g>
<text y="1013.7" font-size="27.4"><tspan x="631.3">xf</tspan><tspan x="685.8">x</tspan><tspan font-size="19.2" x="699.6" dy="-14">0.5</tspan><tspan x="732.2" dy="14">(1</tspan><tspan x="771.9">x)</tspan><tspan font-size="19.2" x="795.4" dy="-14">3</tspan></text>
<path d="M662.3 1004.1h15.2M662.3 1009.6h15.2" stroke="#000" stroke-width="1.8" fill="none"/>
<path d="M756.5 1006.2h15.3" stroke="#000" stroke-width="1.7" fill="none"/>
</svg></body></html>
